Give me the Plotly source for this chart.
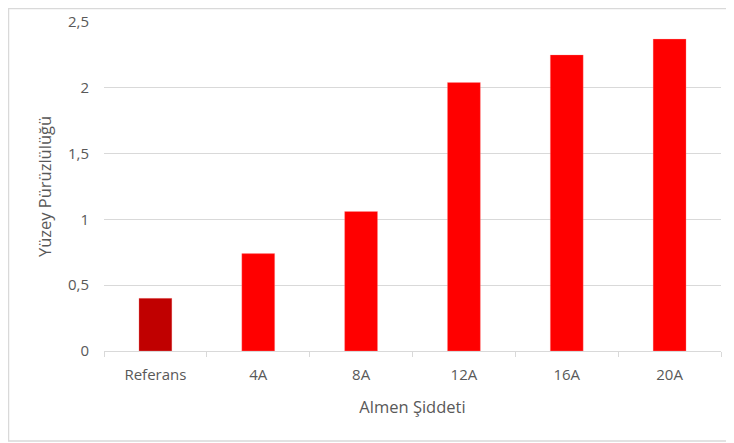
import plotly.graph_objects as go

categories = ["Referans", "4A", "8A", "12A", "16A", "20A"]
values = [0.40, 0.74, 1.06, 2.04, 2.25, 2.37]
bar_colors = ["#C00000", "#FF0000", "#FF0000", "#FF0000", "#FF0000", "#FF0000"]
y_ticks = [0, 0.5, 1, 1.5, 2, 2.5]
y_tick_labels = ["0", "0,5", "1", "1,5", "2", "2,5"]

fig = go.Figure()
fig.add_trace(go.Bar(
    x=categories, y=values,
    marker=dict(color=bar_colors, line=dict(color="rgba(255,160,160,0.6)", width=0.5)),
    width=0.32,
))

font_color = "#595959"
fig.update_layout(
    width=726, height=435,
    margin=dict(l=96, r=13, t=14, b=92, autoexpand=False),
    paper_bgcolor="white", plot_bgcolor="white",
    font=dict(family="'Open Sans', sans-serif", size=15, color=font_color),
    showlegend=False,
    xaxis=dict(
        automargin=False,
        showgrid=False,
        showline=True, linecolor="#d9d9d9", linewidth=1,
        ticks="outside", tickson="boundaries", ticklen=5, tickcolor="#d9d9d9",
        ticklabelstandoff=10,
        title=dict(text="Almen Şiddeti", font=dict(size=16.5, color=font_color), standoff=18),
        tickfont=dict(size=15, color=font_color),
    ),
    yaxis=dict(
        automargin=False,
        range=[0, 2.5],
        tickvals=y_ticks, ticktext=y_tick_labels,
        showgrid=True, gridcolor="#d9d9d9", gridwidth=1,
        zeroline=False, showline=False,
        ticks="", ticklabelstandoff=14,
        title=dict(text="Yüzey Pürüzlülüğü", font=dict(size=16.5, color=font_color), standoff=12),
        tickfont=dict(size=15, color=font_color),
    ),
    shapes=[dict(
        type="rect", xref="paper", yref="paper",
        x0=-0.1548, x1=1.0178, y0=-0.2736, y1=1.041,
        line=dict(color="#d9d9d9", width=1.5), fillcolor="rgba(0,0,0,0)", layer="below",
    )],
)

fig.write_html("out.html")
